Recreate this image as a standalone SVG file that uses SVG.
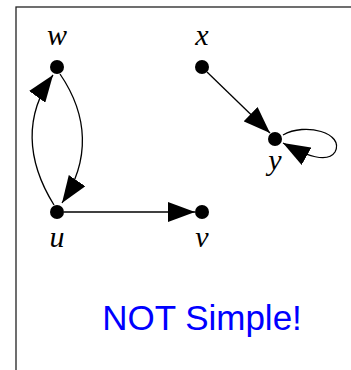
<svg xmlns="http://www.w3.org/2000/svg" width="351" height="370" viewBox="0 0 351 370">
<style>
.node{fill:#000}
.lbl{font-family:"Liberation Serif","Times New Roman",serif;font-style:italic;font-size:30px;fill:#000;text-anchor:middle}
.edge{fill:none;stroke:#000;stroke-width:1.3}
.title{font-family:"Liberation Sans",Arial,sans-serif;font-size:35px;fill:#0000ff;text-anchor:middle}
</style>
<defs>
<marker id="arr" viewBox="0 0 27 20" refX="27" refY="10" markerWidth="27" markerHeight="20" markerUnits="userSpaceOnUse" orient="auto">
<path d="M0,0 L27,10 L0,20 z" fill="#000"/>
</marker>
</defs>
<rect x="16" y="7" width="400" height="400" fill="#fff" stroke="#222" stroke-width="1.3"/>
<g id="connectors">
<path class="edge" d="M54,205 C26,160 24,115 53,75" marker-end="url(#arr)"/>
<path class="edge" d="M60,74 C88,115 91,160 62,203" marker-end="url(#arr)"/>
<path class="edge" d="M64,212 L195,212" marker-end="url(#arr)"/>
<path class="edge" d="M207,72 L270,133" marker-end="url(#arr)"/>
<path class="edge" d="M283,135 C305,122 345,133 335,152 C328,163 308,157 283,143" marker-end="url(#arr)"/>
</g>
<g id="node-w"><circle class="node" cx="57" cy="67" r="7"/><text class="lbl" x="57" y="45">w</text></g>
<g id="node-x"><circle class="node" cx="202" cy="67" r="7"/><text class="lbl" x="202" y="45">x</text></g>
<g id="node-y"><circle class="node" cx="275" cy="139" r="7"/><text class="lbl" x="275" y="170">y</text></g>
<g id="node-u"><circle class="node" cx="57" cy="212" r="7"/><text class="lbl" x="57" y="247">u</text></g>
<g id="node-v"><circle class="node" cx="202" cy="212" r="7"/><text class="lbl" x="202" y="247">v</text></g>
<text class="title" x="202" y="330">NOT Simple!</text>
</svg>
